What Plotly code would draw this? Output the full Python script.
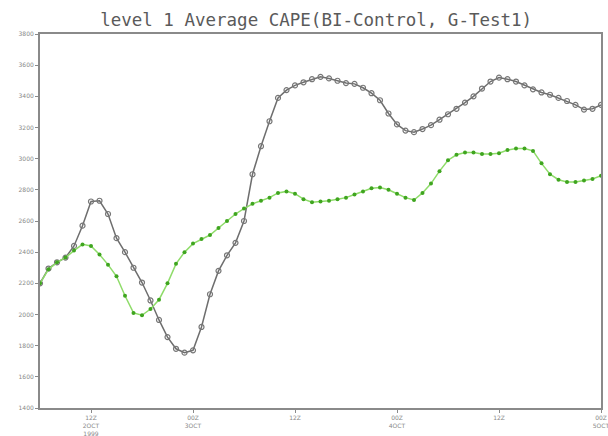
import plotly.graph_objects as go

hours = list(range(67))
bi_control = [2200, 2295, 2335, 2365, 2440, 2570, 2725, 2730, 2645, 2490,
              2400, 2300, 2205, 2090, 1965, 1855, 1780, 1755, 1770, 1920,
              2130, 2280, 2380, 2460, 2600, 2900, 3080, 3240, 3390, 3440,
              3470, 3490, 3510, 3525, 3515, 3500, 3485, 3480, 3455, 3420,
              3375, 3290, 3220, 3180, 3170, 3190, 3215, 3250, 3285, 3320,
              3360, 3400, 3450, 3495, 3520, 3510, 3495, 3470, 3445, 3425,
              3410, 3390, 3370, 3345, 3315, 3320, 3345]
g_test1 = [2200, 2290, 2335, 2365, 2410, 2450, 2440, 2385, 2320, 2245,
           2120, 2010, 1995, 2035, 2095, 2200, 2325, 2400, 2455, 2485,
           2510, 2555, 2600, 2645, 2680, 2710, 2730, 2750, 2780, 2790,
           2775, 2740, 2720, 2725, 2730, 2740, 2750, 2770, 2790, 2810,
           2815, 2800, 2775, 2750, 2735, 2780, 2840, 2920, 2990, 3025,
           3040, 3040, 3030, 3030, 3035, 3055, 3065, 3065, 3050, 2970,
           2900, 2865, 2850, 2850, 2860, 2870, 2890]

x_tickvals = [6, 18, 30, 42, 54, 66]
x_ticktext = ["12Z<br>2OCT<br>1999", "00Z<br>3OCT", "12Z", "00Z<br>4OCT", "12Z", "00Z<br>5OCT"]
y_tickvals = list(range(1400, 3801, 200))

fig = go.Figure()
fig.add_trace(go.Scatter(
    x=hours, y=bi_control, mode="lines+markers", name="BI-Control",
    line=dict(color="#6e6e6e", width=1.5),
    marker=dict(symbol="circle-open", size=5, color="#777777", line=dict(width=1.2)),
))
fig.add_trace(go.Scatter(
    x=hours, y=g_test1, mode="lines+markers", name="G-Test1",
    line=dict(color="#8fdc6a", width=1.5),
    marker=dict(symbol="circle", size=4, color="#3fa51f"),
))

fig.update_layout(
    width=608, height=436,
    margin=dict(l=40, r=7, t=34, b=28),
    paper_bgcolor="white", plot_bgcolor="white",
    showlegend=False,
    title=dict(text="level 1 Average CAPE(BI-Control, G-Test1)",
               x=0.52, xanchor="center", y=0.954, yanchor="middle",
               font=dict(family="DejaVu Sans Mono", size=17.5, color="#5a5a5a")),
    font=dict(family="DejaVu Sans", color="#888888"),
)
fig.update_xaxes(
    range=[0, 66], tickvals=x_tickvals, ticktext=x_ticktext, automargin=False,
    ticklabeloverflow="allow",
    showgrid=False, zeroline=False, showline=True, mirror=True,
    linecolor="#8a8a8a", linewidth=2, ticks="outside", ticklen=3,
    tickcolor="#8a8a8a", tickfont=dict(size=6, color="#888888"),
)
fig.update_yaxes(
    range=[1400, 3800], tickvals=y_tickvals, automargin=False,
    ticklabeloverflow="allow",
    showgrid=False, zeroline=False, showline=True, mirror=True,
    linecolor="#8a8a8a", linewidth=2, ticks="outside", ticklen=3,
    tickcolor="#8a8a8a", tickfont=dict(size=6, color="#888888"),
)

fig.write_html(
    "out.html",
    config={"displayModeBar": False},
    post_script="document.body.style.margin='0px';document.body.style.overflow='hidden';",
)
